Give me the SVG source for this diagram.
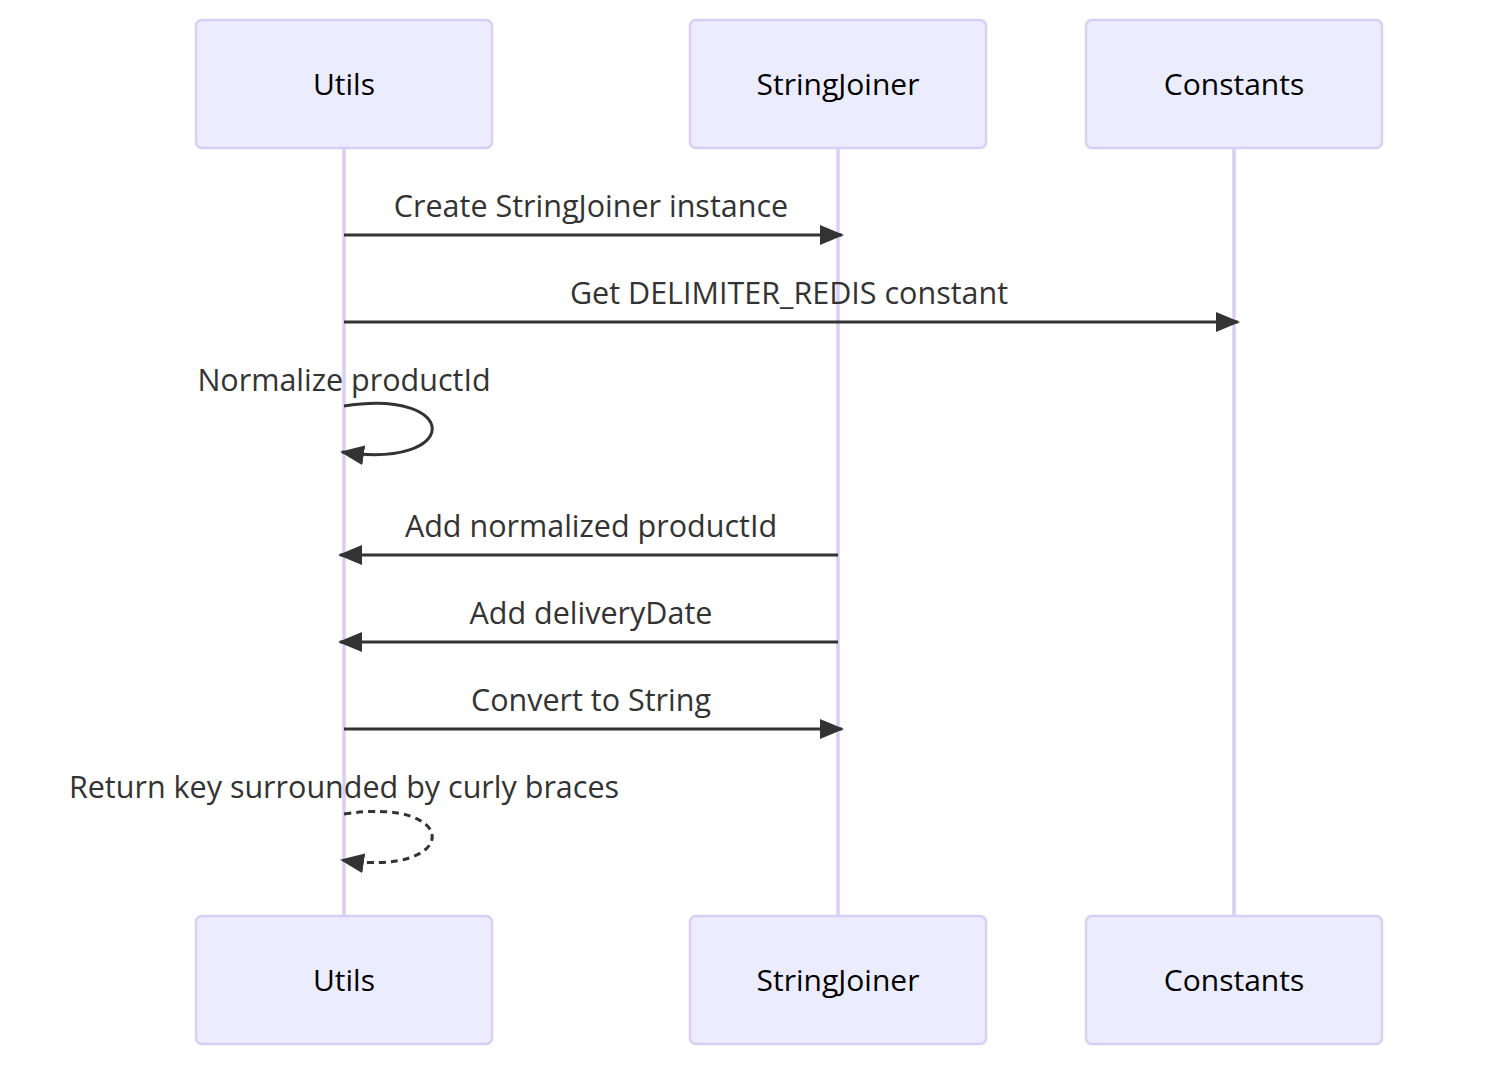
<svg xmlns="http://www.w3.org/2000/svg" width="1498" height="1078" viewBox="0 0 1498 1078">
<style>
.actor{fill:#ECECFF;stroke:#DACEF3;stroke-width:2.5}
.actorText{font-family:"Open Sans","DejaVu Sans",sans-serif;font-size:30px;fill:#000;text-anchor:middle;dominant-baseline:central}
.life{stroke:#DACEF3;stroke-width:3.5}
.msg{stroke:#333;stroke-width:3;fill:none}
.dash{stroke-dasharray:7,5}
.msgText{font-family:"Open Sans","DejaVu Sans",sans-serif;font-size:30.5px;fill:#333;text-anchor:middle;dominant-baseline:central}
</style>
<defs>
<marker id="arrow" viewBox="0 0 12 10" refX="11" refY="5" markerUnits="userSpaceOnUse" markerWidth="24" markerHeight="20" orient="auto">
<path d="M0,0 L12,5 L0,10 z" fill="#333"/>
</marker>
</defs>
<rect width="1498" height="1078" fill="#fff"/>
<g id="lifelines">
<line class="life" x1="344" y1="148" x2="344" y2="916"/>
<line class="life" x1="838" y1="148" x2="838" y2="916"/>
<line class="life" x1="1234" y1="148" x2="1234" y2="916"/>
</g>
<g id="actor-utils-top"><rect class="actor" x="196" y="20" width="296" height="128" rx="6"/><text class="actorText" x="344" y="83">Utils</text></g>
<g id="actor-stringjoiner-top"><rect class="actor" x="690" y="20" width="296" height="128" rx="6"/><text class="actorText" x="838" y="83">StringJoiner</text></g>
<g id="actor-constants-top"><rect class="actor" x="1086" y="20" width="296" height="128" rx="6"/><text class="actorText" x="1234" y="83">Constants</text></g>
<g id="actor-utils-bottom"><rect class="actor" x="196" y="916" width="296" height="128" rx="6"/><text class="actorText" x="344" y="979">Utils</text></g>
<g id="actor-stringjoiner-bottom"><rect class="actor" x="690" y="916" width="296" height="128" rx="6"/><text class="actorText" x="838" y="979">StringJoiner</text></g>
<g id="actor-constants-bottom"><rect class="actor" x="1086" y="916" width="296" height="128" rx="6"/><text class="actorText" x="1234" y="979">Constants</text></g>
<g id="connectors">
<line class="msg" x1="344" y1="235" x2="842" y2="235" marker-end="url(#arrow)"/>
<line class="msg" x1="344" y1="322" x2="1238" y2="322" marker-end="url(#arrow)"/>
<path class="msg" d="M344,406 C462,388 462,470 342,452" marker-end="url(#arrow)"/>
<line class="msg" x1="838" y1="555" x2="340" y2="555" marker-end="url(#arrow)"/>
<line class="msg" x1="838" y1="642" x2="340" y2="642" marker-end="url(#arrow)"/>
<line class="msg" x1="344" y1="729" x2="842" y2="729" marker-end="url(#arrow)"/>
<path class="msg dash" d="M344,814 C462,796 462,878 342,860" marker-end="url(#arrow)"/>
</g>
<g id="labels">
<text class="msgText" x="591" y="205">Create StringJoiner instance</text>
<text class="msgText" x="789" y="292">Get DELIMITER_REDIS constant</text>
<text class="msgText" x="344" y="379">Normalize productId</text>
<text class="msgText" x="591" y="525">Add normalized productId</text>
<text class="msgText" x="591" y="612">Add deliveryDate</text>
<text class="msgText" x="591" y="699">Convert to String</text>
<text class="msgText" x="344" y="786">Return key surrounded by curly braces</text>
</g>
</svg>
